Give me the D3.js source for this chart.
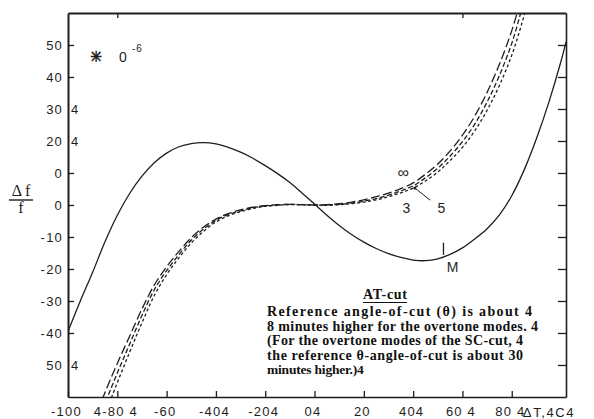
<!DOCTYPE html>
<html>
<head>
<meta charset="utf-8">
<script src="https://cdn.jsdelivr.net/npm/d3@7"></script>
<style>
  html, body { margin: 0; padding: 0; background: #fff; }
  svg { display: block; }
</style>
</head>
<body>
<svg id="chart" width="594" height="419"></svg>
<script>
// Fundamental mode: temperature (°C) and frequency offset (parts in 10^6)
const fundT = [-100,-95,-90,-85,-80,-75,-70,-65,-60,-55,-50,-45,-40,-35,-30,-25,-20,-15,-10,-5,
               0,5,10,15,20,25,30,35,40,45,50,55,60,65,70,75,80,85,90,95,100,102];
const fundV = [-39.5,-30,-21,-11.5,-3.2,3.6,9,13.2,16.2,18.2,19.2,19.5,19.1,18,16.5,14.6,12.3,9.8,7,3.7,
               0.3,-3.2,-6.4,-9.2,-11.6,-13.6,-15.2,-16.4,-17.2,-17.4,-16.8,-15.4,-13.4,-10.6,-7.4,-3.1,2.9,10.9,20.7,32,45,51];

// Overtone modes (3rd, 5th and the limit ∞)
const overT = [-88,-86,-80,-75,-70,-65,-60,-55,-50,-45,-40,-35,-30,-25,-20,-15,-10,-5,
               0,5,10,15,20,25,30,35,40,45,50,55,60,65,70,75,80,84,86];
const overInf = [-64.5,-60.5,-49.5,-41,-32.5,-25,-19.3,-14.5,-10.2,-6.9,-4.4,-2.7,-1.5,-0.7,-0.2,0.1,0.2,0.1,
                 0,0.1,0.4,0.9,1.6,2.6,3.7,5.1,6.9,9.6,12.8,16.9,21.8,27.8,35.2,44,54.5,65,70.5];
const over5 = [-68,-64,-52.5,-43.5,-34.5,-26.5,-20.5,-15.5,-11,-7.5,-4.8,-3,-1.8,-0.9,-0.3,0,0.2,0.1,
               0,0,0.2,0.6,1.2,2,3.1,4.4,6,8.5,11.5,15.3,19.8,25.3,32.2,40.5,50.5,61,66.5];
const over3 = [-71.5,-67.5,-55.5,-46,-36.8,-28.3,-21.8,-16.5,-11.9,-8.2,-5.3,-3.4,-2.1,-1.1,-0.4,-0.1,0.1,0.1,
               0,-0.1,0.1,0.4,0.9,1.6,2.6,3.8,5.3,7.5,10.3,13.9,18,23.2,29.6,37.4,46.8,56.5,62];

// Axis ticks and their printed labels
const xTickValues = [-100,-80,-60,-40,-20,0,20,40,60,80];
const xTickText = ["-100","4-80 4","-60","-404","-204","04","20","404","60 4","80 4"];
const xTitle = "ΔT,4C4";
const yTickValues = [50,40,30,20,10,0,-10,-20,-30,-40,-50];
const yTickText = ["50","40","30 4","20 4","0","0","-10","-20","-30","-40","50 4"];
const topTickValues = [-80, 60];

const noteTitle = "AT-cut";
const noteLines = [
  "Reference angle-of-cut  (θ)  is about 4",
  "8 minutes higher for the overtone modes. 4",
  "(For the overtone modes of the SC-cut, 4",
  "the reference θ-angle-of-cut is about 30",
  "minutes higher.)4"
];
const noteWidths = [265, 271, 256, 256, null];

const svg = d3.select("#chart");
const plotLeft = 68, plotRight = 566, plotTop = 13, plotBottom = 397;
const x = d3.scaleLinear().domain([-100, 102]).range([plotLeft, plotRight]);
const y = d3.scaleLinear().domain([-60, 60]).range([plotBottom, plotTop]);

const ink = "#1e1e1e";
const sans = "'Liberation Sans', Arial, sans-serif";
const serif = "'Liberation Serif', 'Times New Roman', serif";

svg.append("rect").attr("width", 594).attr("height", 419).attr("fill", "#fff");

svg.append("defs").append("clipPath").attr("id", "plot")
  .append("rect").attr("x", plotLeft).attr("y", plotTop)
  .attr("width", plotRight - plotLeft).attr("height", plotBottom - plotTop);

// Frame: axes with inward ticks
const styleAxis = (g, w) => {
  g.select(".domain").attr("stroke", ink).attr("stroke-width", w);
  g.selectAll(".tick line").attr("stroke", ink).attr("stroke-width", 1.3);
  g.selectAll("text").attr("fill", ink).attr("font-family", sans)
    .attr("font-size", 13).attr("letter-spacing", "1.2px");
};

const gx = svg.append("g").attr("transform", `translate(0,${plotBottom})`)
  .call(d3.axisBottom(x).tickValues(xTickValues).tickSize(-6).tickSizeOuter(0)
    .tickPadding(10).tickFormat((d, i) => xTickText[i]));
styleAxis(gx, 1.6);
gx.selectAll("text").attr("dx", -2);

const gy = svg.append("g").attr("transform", `translate(${plotLeft},0)`)
  .call(d3.axisLeft(y).tickValues(yTickValues).tickSize(-6).tickSizeOuter(0)
    .tickPadding(5).tickFormat((d, i) => yTickText[i].split(" ")[0]));
styleAxis(gy, 2);
// stray trailing marks printed just inside the left axis
gy.selectAll(".tick").each(function(d, i) {
  const parts = yTickText[i].split(" ");
  if (parts.length > 1) {
    d3.select(this).select("line").remove();
    d3.select(this).append("text")
      .attr("x", 3).attr("dy", "0.32em").attr("text-anchor", "start")
      .attr("fill", ink).attr("font-family", sans).attr("font-size", 13)
      .text(parts[1]);
  }
});

const gr = svg.append("g").attr("transform", `translate(${plotRight},0)`)
  .call(d3.axisRight(y).tickValues(yTickValues).tickSize(-8).tickSizeOuter(0).tickFormat(""));
styleAxis(gr, 1.6);

const gt = svg.append("g").attr("transform", `translate(0,${plotTop})`)
  .call(d3.axisTop(x).tickValues(topTickValues).tickSize(-5).tickSizeOuter(0).tickFormat(""));
styleAxis(gt, 2);

// x-axis title
svg.append("text").attr("x", x(84.5)).attr("y", plotBottom + 20)
  .attr("fill", ink).attr("font-family", sans).attr("font-size", 13)
  .attr("letter-spacing", "1.6px").text(xTitle);

// y-axis title  Δf / f
const yt = svg.append("g").attr("fill", ink).attr("font-family", serif).attr("font-size", 16);
yt.append("text").attr("x", 21).attr("y", 196).attr("text-anchor", "middle").text("Δ f");
yt.append("line").attr("x1", 9).attr("x2", 33).attr("y1", 200).attr("y2", 200)
  .attr("stroke", ink).attr("stroke-width", 1.4);
yt.append("text").attr("x", 21).attr("y", 213).attr("text-anchor", "middle").text("f");

// scale factor (star-shaped multiplier sign, then 0 and the exponent)
const star = svg.append("g").attr("fill", ink).attr("font-family", "'DejaVu Sans', sans-serif")
  .attr("text-anchor", "middle");
star.append("text").attr("x", 96).attr("y", 62).attr("font-size", 17).text("+");
star.append("text").attr("x", 96).attr("y", 62).attr("font-size", 17).text("×");
svg.append("text").attr("x", 119).attr("y", 62).attr("fill", ink)
  .attr("font-family", sans).attr("font-size", 14).text("0");
svg.append("text").attr("x", 132).attr("y", 52).attr("fill", ink)
  .attr("font-family", sans).attr("font-size", 10).attr("letter-spacing", "1px").text("-6");

// Curves
const line = d3.line().x(d => x(d[0])).y(d => y(d[1])).curve(d3.curveCatmullRom.alpha(0.5));
const plot = svg.append("g").attr("clip-path", "url(#plot)");

const overtones = [
  { name: "∞", vals: overInf, dash: "9,3.5" },
  { name: "5", vals: over5, dash: "5,2.5" },
  { name: "3", vals: over3, dash: "3,2.5" }
];
overtones.forEach(s => {
  plot.append("path")
    .datum(overT.map((t, i) => [t, s.vals[i]]))
    .attr("d", line).attr("fill", "none")
    .attr("stroke", ink).attr("stroke-width", 1.3)
    .attr("stroke-dasharray", s.dash);
});

plot.append("path")
  .datum(fundT.map((t, i) => [t, fundV[i]]))
  .attr("d", line).attr("fill", "none")
  .attr("stroke", ink).attr("stroke-width", 1.3);

// Curve labels
const lab = svg.append("g").attr("fill", ink).attr("font-family", sans).attr("font-size", 14);
lab.append("text").attr("x", x(36)).attr("y", y(8.3)).attr("text-anchor", "middle")
  .attr("font-size", 16).text("∞");
lab.append("text").attr("x", x(37.3)).attr("y", y(-2.5)).attr("text-anchor", "middle").text("3");
lab.append("text").attr("x", x(51.5)).attr("y", y(-2.5)).attr("text-anchor", "middle").text("5");
svg.append("line").attr("x1", x(40.7)).attr("y1", y(5.3)).attr("x2", x(46.9)).attr("y2", y(1.5))
  .attr("stroke", ink).attr("stroke-width", 1);
svg.append("circle").attr("cx", x(40.7)).attr("cy", y(5.3)).attr("r", 1.6).attr("fill", ink);
svg.append("line").attr("x1", x(52.3)).attr("x2", x(52.3)).attr("y1", y(-11.8)).attr("y2", y(-15.6))
  .attr("stroke", ink).attr("stroke-width", 1.3);
lab.append("text").attr("x", x(56)).attr("y", y(-20.8)).attr("text-anchor", "middle").text("M");

// Note block
const note = svg.append("g").attr("fill", "#111").attr("font-family", serif)
  .attr("font-weight", "bold").attr("font-size", 14);
note.append("text").attr("x", 385).attr("y", 299).attr("text-anchor", "middle")
  .attr("textLength", 44).attr("lengthAdjust", "spacing").text(noteTitle);
svg.append("line").attr("x1", 363).attr("x2", 407).attr("y1", 302.5).attr("y2", 302.5)
  .attr("stroke", "#111").attr("stroke-width", 1);
noteLines.forEach((s, i) => {
  const t = note.append("text").attr("x", 267).attr("y", 316 + i * 14.6).text(s);
  if (noteWidths[i]) t.attr("textLength", noteWidths[i]).attr("lengthAdjust", "spacing");
  else t.attr("font-size", 13.5).attr("letter-spacing", "-0.2px");
});
</script>
</body>
</html>
